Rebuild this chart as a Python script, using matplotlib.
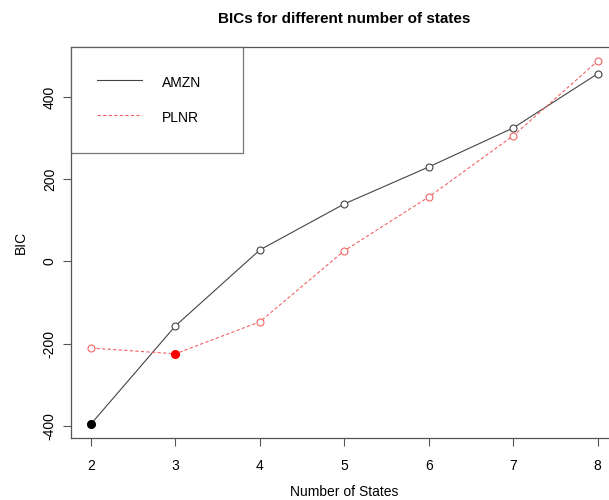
import numpy as np
import matplotlib
matplotlib.use("Agg")
import matplotlib.pyplot as plt

plt.rcParams["font.family"] = ["Liberation Sans", "DejaVu Sans"]
plt.rcParams["axes.unicode_minus"] = False

# ----- DATA -----
n_states = [2, 3, 4, 5, 6, 7, 8]
bic_amzn = [-396, -157, 28, 140, 230, 325, 457]
bic_plnr = [-211, -225, -147, 26, 157, 306, 488]

amzn_color = "#444444"
plnr_color = "#f26464"

# ----- FIGURE -----
fig = plt.figure(figsize=(6.09, 5.00), dpi=100)
ax = fig.add_axes([70.7 / 609, 1 - 438 / 500, (618 - 70.7) / 609, (438 - 47) / 500])

ax.plot(n_states, bic_amzn, color=amzn_color, lw=0.8, marker="o", ms=5,
        mfc="white", mec=amzn_color, mew=0.8, label="AMZN")
ax.plot(n_states, bic_plnr, color=plnr_color, lw=0.8, ls=(0, (3, 2)), marker="o", ms=5,
        mfc="white", mec=plnr_color, mew=0.8, label="PLNR")

# highlight the minimum BIC of each series
i_a = int(np.argmin(bic_amzn))
i_p = int(np.argmin(bic_plnr))
ax.plot(n_states[i_a], bic_amzn[i_a], "o", color="black", ms=5.5, zorder=5)
ax.plot(n_states[i_p], bic_plnr[i_p], "o", color="red", ms=5.5, zorder=5)

ax.set_xlim(1.76, 8.24)
ax.set_ylim(-430, 522)
ax.set_xticks(n_states)
ax.set_yticks([-400, -200, 0, 200, 400])
ax.tick_params(axis="both", direction="out", length=6, width=0.8, color="#555555",
               labelsize=10)
ax.tick_params(axis="x", pad=9)
ax.tick_params(axis="y", pad=4)
for lbl in ax.get_yticklabels():
    lbl.set_rotation(90)
    lbl.set_va("center")

for s in ax.spines.values():
    s.set_color("#555555")
    s.set_linewidth(0.9)

ax.set_title("BICs for different number of states", fontsize=11, fontweight="bold", pad=17)
ax.set_xlabel("Number of States", fontsize=10, labelpad=9)
ax.set_ylabel("BIC", fontsize=10, labelpad=11)

leg = ax.legend(loc="upper left", bbox_to_anchor=(0, 0, 172 / 547.3, 1), mode="expand",
                borderaxespad=0, frameon=True, fancybox=False, fontsize=10,
                handlelength=3.2, handleheight=1.7, handletextpad=1.5,
                borderpad=1.9, labelspacing=1.15, edgecolor="#555555")
leg.get_frame().set_linewidth(0.9)
for h in leg.legend_handles:
    h.set_marker("")

fig.savefig("out.png", dpi=100)
